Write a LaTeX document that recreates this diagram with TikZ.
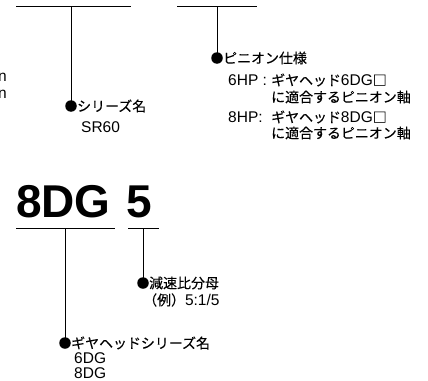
\documentclass[tikz,border=0pt]{standalone}
\usepackage{fontspec}
\setmainfont{Liberation Sans}
\newfontfamily\jp[Scale=0.9,FakeBold=0.2]{Noto Sans CJK JP}
\begin{document}
\begin{tikzpicture}[x=1pt,y=-1pt,
  dot/.style={circle,fill=black,inner sep=0pt,minimum size=11.5pt},
  lbl/.style={anchor=west,inner sep=0pt,font=\fontsize{15.5}{17}\selectfont},
  big/.style={anchor=base west,inner sep=0pt,font=\fontsize{46}{46}\selectfont\bfseries},
  ln/.style={line width=0.9pt}]
\useasboundingbox (0,0) rectangle (428,380);
\clip (0,0) rectangle (428,380);
% top bars
\coordinate (a1) at (16,6); \coordinate (a2) at (131,6);
\coordinate (b1) at (177,6); \coordinate (b2) at (257,6);
\draw[ln] (a1) -- (a2);
\draw[ln] (b1) -- (b2);
\coordinate (av) at (71,6);
\coordinate (bv) at (217,6);
\node[dot] (d1) at (71,106) {};
\node[dot] (d2) at (217,58) {};
\draw[ln] (av) -- (d1.center);
\draw[ln] (bv) -- (d2.center);
% left clipped text
\node[lbl,anchor=east] (n1) at (7,77) {n};
\node[lbl,anchor=east] (n2) at (7,94) {n};
% series name
\node[lbl] (t1) at (77,106) {\jp シリーズ名};
\node[lbl] (t1b) at (81,127) {SR60};
% pinion
\node[lbl] (t2) at (223,58) {\jp ピニオン仕様};
\node[lbl] (t3) at (228,80) {6HP :};
\node[lbl] (t3b) at (271,80) {{\jp ギヤヘッド}6DG{\jp □}};
\node[lbl] (t4) at (271,97) {\jp に適合するピニオン軸};
\node[lbl] (t5) at (228,117) {8HP:};
\node[lbl] (t5b) at (271,117) {{\jp ギヤヘッド}8DG{\jp □}};
\node[lbl] (t6) at (271,133) {\jp に適合するピニオン軸};
% big code
\node[big] (c1) at (16,217) {8DG};
\node[big] (c2) at (126,217) {5};
\coordinate (u1) at (16,228); \coordinate (u2) at (115,228);
\coordinate (w1) at (128,228); \coordinate (w2) at (159,228);
\draw[ln] (u1) -- (u2);
\draw[ln] (w1) -- (w2);
\coordinate (uv) at (65,228);
\coordinate (wv) at (143,228);
\node[dot] (d3) at (143,283) {};
\node[dot] (d4) at (65,343) {};
\draw[ln] (wv) -- (d3.center);
\draw[ln] (uv) -- (d4.center);
\node[lbl] (t7) at (149,283) {\jp 減速比分母};
\node[lbl] (t8) at (143,300) {{\jp （例）}5:1/5};
\node[lbl] (t9) at (71,343) {\jp ギヤヘッドシリーズ名};
\node[lbl] (t10) at (74,358) {6DG};
\node[lbl] (t11) at (74,373) {8DG};
\end{tikzpicture}
\end{document}
